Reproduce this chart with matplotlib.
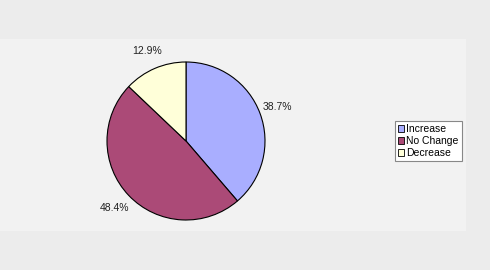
import matplotlib
matplotlib.use("Agg")
import matplotlib.pyplot as plt
from matplotlib.patches import Rectangle, Patch

categories = ["Increase", "No Change", "Decrease"]
counts = [12, 15, 4]
colors = ["#a9aeff", "#ab4a77", "#ffffd9"]

plt.rcParams["font.family"] = ["Liberation Sans", "DejaVu Sans"]

W, H = 490, 270
fig = plt.figure(figsize=(W / 100, H / 100), dpi=100)
fig.patch.set_facecolor("#ececec")

# lighter inner panel
fig.patches.append(Rectangle((0, 1 - 231 / H), 466 / W, (231 - 39) / H,
                             transform=fig.transFigure, facecolor="#f2f2f2",
                             edgecolor="none", zorder=-1))

cx, cy, r = 186, 141, 79
ax = fig.add_axes([(cx - r) / W, (H - cy - r) / H, 2 * r / W, 2 * r / H])
wedges, texts, autotexts = ax.pie(counts, colors=colors, startangle=90, counterclock=False,
                                  autopct="%1.1f%%", pctdistance=1.24,
                                  wedgeprops=dict(edgecolor="black", linewidth=0.8),
                                  textprops=dict(fontsize=7.5, color="#222222"))
ax.set_aspect("equal")
ax.set_xlim(-1, 1)
ax.set_ylim(-1, 1)
ax.axis("off")

handles = [Patch(facecolor=c, edgecolor="black", linewidth=0.6) for c in colors]
leg = fig.legend(handles, categories, loc="center left",
                 bbox_to_anchor=(395 / W, 1 - 141 / H), fontsize=7.5,
                 handlelength=0.6, handleheight=0.6, handletextpad=0.2,
                 labelspacing=0.2, borderpad=0.3, borderaxespad=0,
                 fancybox=False, framealpha=1)
leg.get_frame().set_edgecolor("#888888")
leg.get_frame().set_facecolor("white")
leg.get_frame().set_linewidth(0.8)

fig.savefig("out.png", dpi=100, facecolor=fig.get_facecolor())
